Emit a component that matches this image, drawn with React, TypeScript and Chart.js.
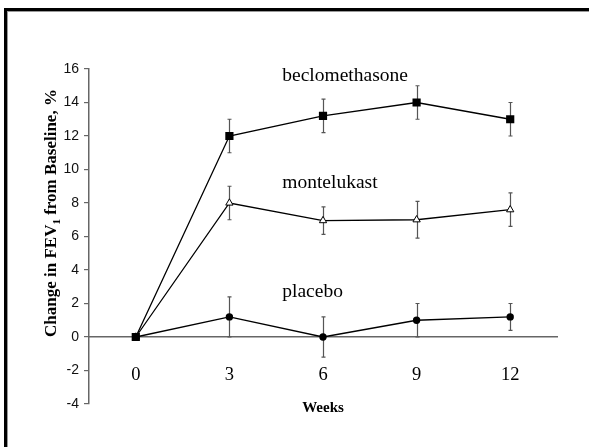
import React, { useEffect, useRef } from 'react';
import { Chart, registerables } from 'chart.js';

Chart.register(...registerables);

const weeks = ['0', '3', '6', '9', '12'];
const beclomethasone = [0, 12, 13.2, 14, 13];
const beclomethasoneErr = [0, 1, 1, 1, 1];
const montelukast = [0, 8, 6.95, 7, 7.6];
const montelukastErr = [0, 1, 0.82, 1.1, 1];
const placebo = [0, 1.2, 0, 1, 1.2];
const placeboErr = [0, 1.2, 1.2, 1, 0.8];

const yMin = -4;
const yMax = 16;
const yStep = 2;

const seriesNames = ['beclomethasone', 'montelukast', 'placebo'];
const nameX = [1.565, 1.565, 1.565];
const nameY = [15.29, 8.88, 2.36];

const yTitleMain = 'Change in FEV';
const yTitleSub = '1';
const yTitleRest = ' from Baseline, %';
const xTitle = 'Weeks';

const SERIF = '"Liberation Serif", "Times New Roman", serif';
const SANS = '"Liberation Sans", Arial, sans-serif';

const errorBars = {
  id: 'errorBars',
  beforeDatasetsDraw(chart: any) {
    const { ctx } = chart;
    const x = chart.scales.x;
    const y = chart.scales.y;
    ctx.save();
    ctx.strokeStyle = '#555';
    ctx.lineWidth = 1.2;
    chart.data.datasets.forEach((ds: any) => {
      const errs: number[] = ds.errors || [];
      ds.data.forEach((v: number, j: number) => {
        const e = errs[j];
        if (!e) return;
        const px = Math.round(x.getPixelForValue(j)) + 0.5;
        const top = y.getPixelForValue(v + e);
        const bot = y.getPixelForValue(v - e);
        ctx.beginPath();
        ctx.moveTo(px, top);
        ctx.lineTo(px, bot);
        ctx.moveTo(px - 2, top);
        ctx.lineTo(px + 2, top);
        ctx.moveTo(px - 2, bot);
        ctx.lineTo(px + 2, bot);
        ctx.stroke();
      });
    });
    ctx.restore();
  },
};

const textLayer = {
  id: 'textLayer',
  afterDraw(chart: any) {
    const { ctx } = chart;
    const x = chart.scales.x;
    const y = chart.scales.y;
    ctx.save();
    ctx.fillStyle = '#000';
    ctx.font = `19.5px ${SERIF}`;
    ctx.textAlign = 'left';
    ctx.textBaseline = 'alphabetic';
    seriesNames.forEach((n, i) => {
      ctx.fillText(n, x.getPixelForValue(nameX[i]), y.getPixelForValue(nameY[i]));
    });
    // y axis title with subscript
    ctx.translate(chart.chartArea.left - 37, y.getPixelForValue(0));
    ctx.rotate(-Math.PI / 2);
    ctx.textBaseline = 'middle';
    const main = `bold 17px ${SERIF}`;
    const sub = `bold 11px ${SERIF}`;
    let cx = 0;
    ctx.font = main;
    ctx.fillText(yTitleMain, cx, 0);
    cx += ctx.measureText(yTitleMain).width;
    ctx.font = sub;
    ctx.fillText(yTitleSub, cx, 5);
    cx += ctx.measureText(yTitleSub).width;
    ctx.font = main;
    ctx.fillText(yTitleRest, cx, 0);
    ctx.restore();
  },
};

export default function App() {
  const ref = useRef<HTMLCanvasElement>(null);
  useEffect(() => {
    document.body.style.margin = '0';
    const chart = new Chart(ref.current as HTMLCanvasElement, {
      type: 'line',
      data: {
        labels: weeks,
        datasets: [
          {
            label: 'beclomethasone',
            data: beclomethasone,
            errors: beclomethasoneErr,
            borderColor: '#000',
            borderWidth: 1.3,
            pointStyle: 'rect',
            pointRadius: 5.8,
            pointBackgroundColor: '#000',
            pointBorderColor: '#000',
            pointBorderWidth: 0,
            tension: 0,
          } as any,
          {
            label: 'montelukast',
            data: montelukast,
            errors: montelukastErr,
            borderColor: '#000',
            borderWidth: 1.3,
            pointStyle: 'triangle',
            pointRadius: 4.2,
            pointBackgroundColor: '#fff',
            pointBorderColor: '#000',
            pointBorderWidth: 1,
            tension: 0,
          } as any,
          {
            label: 'placebo',
            data: placebo,
            errors: placeboErr,
            borderColor: '#000',
            borderWidth: 1.3,
            pointStyle: 'circle',
            pointRadius: 3.7,
            pointBackgroundColor: '#000',
            pointBorderColor: '#000',
            pointBorderWidth: 0,
            tension: 0,
          } as any,
        ],
      },
      options: {
        responsive: false,
        animation: false,
        layout: { padding: { top: 69, bottom: 43, right: 32, left: 0 } },
        plugins: { legend: { display: false }, tooltip: { enabled: false } },
        scales: {
          x: {
            type: 'category',
            offset: true,
            position: { y: 0 } as any,
            grid: { display: true, drawOnChartArea: false, drawTicks: false },
            border: { display: true, color: '#666', width: 1.5 },
            ticks: {
              color: '#000',
              font: { family: SERIF, size: 18.5 },
              padding: 27,
              maxRotation: 0,
            },
            title: {
              display: true,
              text: xTitle,
              color: '#000',
              font: { family: SERIF, size: 15, weight: 'bold' },
              padding: { top: -14, bottom: 0 },
            },
          },
          y: {
            min: yMin,
            max: yMax,
            ticks: {
              stepSize: yStep,
              color: '#111',
              font: { family: SANS, size: 14 },
              padding: 5,
            },
            grid: { drawOnChartArea: false, drawTicks: true, tickLength: 5, color: '#666', lineWidth: 1.2 },
            border: { color: '#666', width: 1.5 },
            afterFit: (s: any) => {
              s.width = 89;
            },
          },
        },
      },
      plugins: [errorBars, textLayer],
    } as any);
    return () => chart.destroy();
  }, []);
  return (
    <div style={{ position: 'relative', width: 589, height: 447, overflow: 'hidden', background: '#fff' }}>
      <div
        style={{
          position: 'absolute',
          left: 4,
          top: 8,
          width: 700,
          height: 600,
          borderLeft: '3px solid #000',
          borderTop: '3px solid #000',
          boxShadow: 'inset 1px 1px 0 #999',
        }}
      />
      <canvas ref={ref} width={589} height={447} style={{ position: 'absolute', left: 0, top: 0 }} />
    </div>
  );
}
